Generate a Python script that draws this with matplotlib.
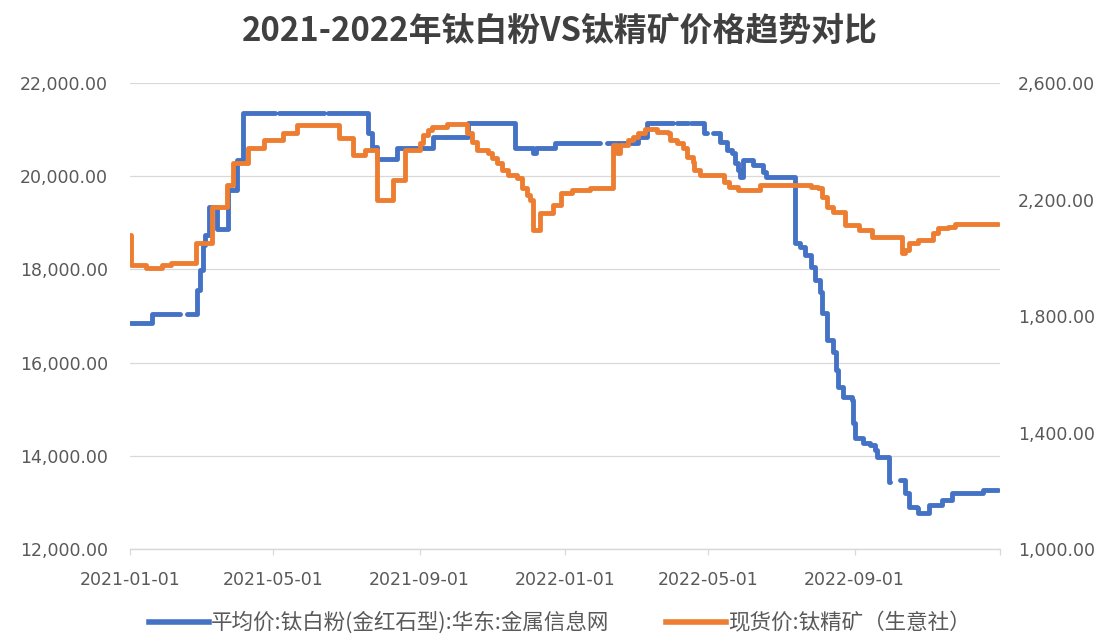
import numpy as np
import pandas as pd
import matplotlib
matplotlib.use('Agg')
import matplotlib.pyplot as plt
from matplotlib.ticker import FuncFormatter
from matplotlib.lines import Line2D

# 钛白粉 (金红石型) 华东均价, 元/吨 — NaN = 缺数据
tio2_dates = [
    '2021-01-01', '2021-01-19', '2021-02-12', '2021-02-18', '2021-02-26', '2021-03-01',
    '2021-03-03', '2021-03-05', '2021-03-08', '2021-03-15', '2021-03-24', '2021-04-01',
    '2021-04-06', '2021-05-03', '2021-05-06', '2021-06-13', '2021-06-16', '2021-07-20',
    '2021-07-23', '2021-07-27', '2021-08-13', '2021-09-12', '2021-09-22', '2021-09-24',
    '2021-10-02', '2021-10-04', '2021-10-12', '2021-11-20', '2021-12-05', '2021-12-08',
    '2021-12-24', '2022-01-30', '2022-02-05', '2022-03-03', '2022-03-11', '2022-04-02',
    '2022-04-05', '2022-04-14', '2022-04-17', '2022-04-28', '2022-04-30', '2022-05-05',
    '2022-05-11', '2022-05-17', '2022-05-21', '2022-05-24', '2022-05-26', '2022-05-28',
    '2022-05-30', '2022-06-08', '2022-06-16', '2022-06-19', '2022-07-13', '2022-07-17',
    '2022-07-21', '2022-07-26', '2022-07-30', '2022-08-03', '2022-08-05', '2022-08-09',
    '2022-08-14', '2022-08-16', '2022-08-18', '2022-08-22', '2022-08-30', '2022-08-31',
    '2022-09-01', '2022-09-08', '2022-09-14', '2022-09-18', '2022-09-20', '2022-09-30',
    '2022-10-01', '2022-10-09', '2022-10-13', '2022-10-17', '2022-10-23', '2022-10-24',
    '2022-11-02', '2022-11-13', '2022-11-22', '2022-12-18', '2022-12-30',
]
tio2_price = [
    16850, 17050, np.nan, 17050, 17560, 17990,
    18520, 18740, 19350, 18870, 19700, 20350,
    21360, np.nan, 21360, np.nan, 21360, 20930,
    20630, 20370, 20600, 20840, np.nan, 20840,
    np.nan, 20840, 21140, 20600, 20500, 20600,
    20710, np.nan, 20710, 20840, 21140, np.nan,
    21140, np.nan, 21140, 20930, np.nan, 20930,
    20730, 20560, 20500, 20280, 20130, 19980,
    20350, 20240, 20090, 19980, 18570, 18480,
    18310, 18050, 17770, 17520, 17060, 16490,
    16230, 15840, 15480, 15260, 15200, 14700,
    14380, 14280, 14230, 14120, 13970, 13440,
    np.nan, 13480, 13200, 12900, 12880, 12770,
    12940, 13050, 13200, 13270, 13270,
]

# 钛精矿现货价 (生意社), 元/吨
ore_dates = [
    '2021-01-01', '2021-01-02', '2021-01-14', '2021-01-28', '2021-02-04', '2021-02-25',
    '2021-03-11', '2021-03-23', '2021-03-28', '2021-04-10', '2021-04-23', '2021-05-09',
    '2021-05-21', '2021-06-25', '2021-07-07', '2021-07-17', '2021-07-27', '2021-08-10',
    '2021-08-20', '2021-09-01', '2021-09-04', '2021-09-08', '2021-09-11', '2021-09-24',
    '2021-10-11', '2021-10-15', '2021-10-19', '2021-10-28', '2021-11-01', '2021-11-05',
    '2021-11-09', '2021-11-14', '2021-11-22', '2021-11-26', '2021-11-30', '2021-12-03',
    '2021-12-05', '2021-12-11', '2021-12-22', '2021-12-29', '2022-01-07', '2022-01-22',
    '2022-02-10', '2022-02-14', '2022-02-16', '2022-02-23', '2022-02-27', '2022-03-03',
    '2022-03-09', '2022-03-19', '2022-03-28', '2022-03-30', '2022-04-05', '2022-04-10',
    '2022-04-13', '2022-04-18', '2022-04-19', '2022-04-24', '2022-05-14', '2022-05-19',
    '2022-05-26', '2022-06-14', '2022-07-26', '2022-08-01', '2022-08-05', '2022-08-09',
    '2022-08-14', '2022-08-24', '2022-09-05', '2022-09-16', '2022-10-11', '2022-10-13',
    '2022-10-17', '2022-10-24', '2022-11-06', '2022-11-10', '2022-11-18', '2022-11-24',
    '2022-12-30',
]
ore_price = [
    2078, 1975, 1965, 1975, 1982, 2051,
    2174, 2250, 2325, 2377, 2404, 2428,
    2456, 2411, 2353, 2370, 2198, 2267,
    2370, 2394, 2421, 2439, 2449, 2459,
    2428, 2397, 2370, 2360, 2342, 2325,
    2301, 2284, 2274, 2240, 2216, 2198,
    2095, 2154, 2181, 2222, 2233, 2240,
    2387, 2360, 2387, 2404, 2415, 2428,
    2442, 2432, 2428, 2404, 2394, 2377,
    2346, 2329, 2301, 2284, 2260, 2243,
    2233, 2250, 2243, 2240, 2209, 2174,
    2157, 2112, 2095, 2071, 2016, 2027,
    2051, 2061, 2085, 2102, 2106, 2116,
    2116,
]

x_ticks = ['2021-01-01', '2021-05-01', '2021-09-01', '2022-01-01',
           '2022-05-01', '2022-09-01', '2023-01-01']
left_ticks = [12000, 14000, 16000, 18000, 20000, 22000]
right_ticks = [1000, 1400, 1800, 2200, 2600]

title = '2021-2022年钛白粉VS钛精矿价格趋势对比'
label_tio2 = '平均价:钛白粉(金红石型):华东:金属信息网'
label_ore = '现货价:钛精矿（生意社）'

BLUE = '#4472C4'
ORANGE = '#ED7D31'
TXT = '#595959'
GRID = '#D9D9D9'
CJK = ['Noto Sans CJK SC', 'DejaVu Sans']

fig = plt.figure(figsize=(11.04, 6.39), dpi=100)
ax = fig.add_axes([0.1178, 0.1408, 0.7880, 0.7293])
ax2 = ax.twinx()

ax.plot(pd.to_datetime(tio2_dates), tio2_price, color=BLUE, lw=3.5,
        drawstyle='steps-post', solid_capstyle='round')
ax2.plot(pd.to_datetime(ore_dates), ore_price, color=ORANGE, lw=3.5,
         drawstyle='steps-post', solid_capstyle='round')

# 坐标轴
ax.set_xlim(pd.Timestamp('2021-01-01'), pd.Timestamp('2023-01-01'))
ax.set_ylim(12000, 22000)
ax2.set_ylim(1000, 2600)
ax.set_yticks(left_ticks)
ax2.set_yticks(right_ticks)
fmt = FuncFormatter(lambda v, p: f'{v:,.2f}')
ax.yaxis.set_major_formatter(fmt)
ax2.yaxis.set_major_formatter(fmt)

xt = pd.to_datetime(x_ticks)
ax.set_xticks(xt)
ax.set_xticklabels([d.strftime('%Y-%m-%d') for d in xt[:-1]] + [''])

ax.grid(axis='y', color=GRID, lw=0.9)
ax.set_axisbelow(True)
for a in (ax, ax2):
    for s in ('top', 'left', 'right'):
        a.spines[s].set_visible(False)
    a.spines['bottom'].set_color(GRID)
    a.spines['bottom'].set_linewidth(0.9)

ax.tick_params(axis='x', colors=GRID, length=4, width=0.9, pad=12,
               labelsize=12.5, labelcolor=TXT)
ax.tick_params(axis='y', length=0, pad=16, labelsize=12.5, labelcolor=TXT)
ax2.tick_params(axis='y', length=0, pad=13, labelsize=12.5, labelcolor=TXT)

fig.text(0.507, 0.951, title, ha='center', va='center', fontsize=23.7,
         fontweight='bold', color='#404040', family=CJK)

handles = [Line2D([], [], color=BLUE, lw=4), Line2D([], [], color=ORANGE, lw=4)]
leg = fig.legend(handles, [label_tio2, label_ore], loc='center',
                 bbox_to_anchor=(0.507, 0.025), ncol=2, frameon=False,
                 handlelength=2.8, handletextpad=0.1, columnspacing=2.6,
                 prop={'family': CJK, 'size': 15.5})
for t in leg.get_texts():
    t.set_color(TXT)

fig.savefig('out.png', dpi=100)
